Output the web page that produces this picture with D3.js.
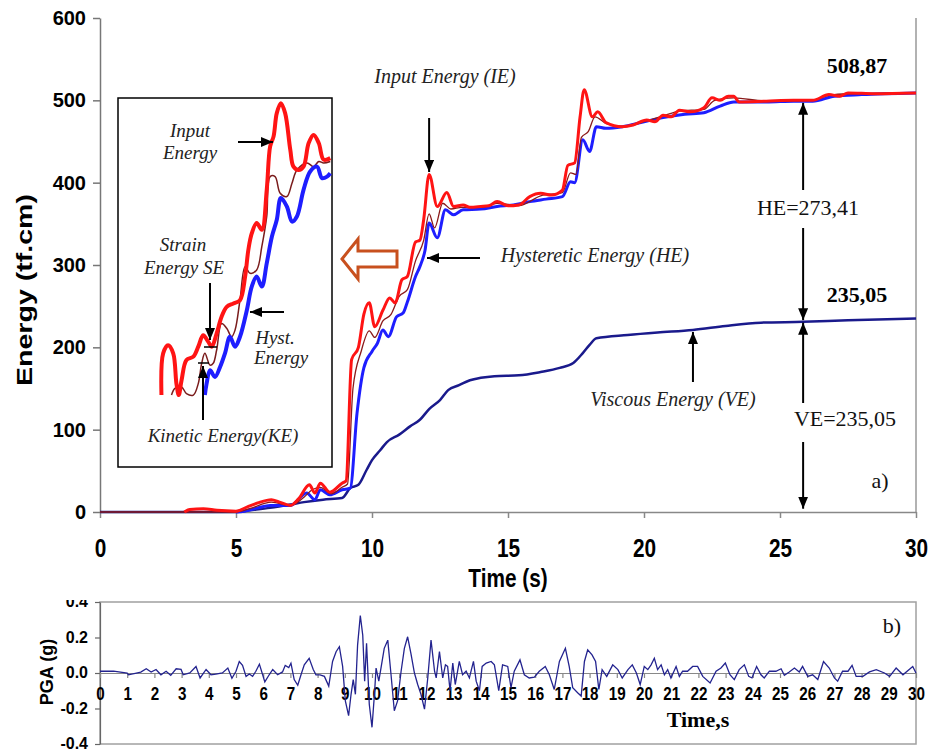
<!DOCTYPE html>
<html>
<head>
<meta charset="utf-8">
<script src="https://cdn.jsdelivr.net/npm/d3@7"></script>
<style>
  body { margin: 0; background: #fff; }
  svg { display: block; }
</style>
</head>
<body>
<div class="energy-chart"></div>
<script>
// ---- data ----
const timeTicks = [0, 5, 10, 15, 20, 25, 30]
const energyTicks = [0, 100, 200, 300, 400, 500, 600]
const pgaTicks = [-0.4, -0.2, 0, 0.2, 0.4]
const pgaTimeTicks = d3.range(0, 31)

// [time s, energy tf.cm]
const inputEnergy = [[3.1,0],[3.3,3],[3.8,4],[4.3,2],[5.0,1],[5.4,6],[5.8,11],[6.3,15],[6.6,12],[7.0,8],[7.3,16],[7.7,33],[7.9,23],[8.1,35],[8.45,24],[8.9,35],[9.05,38],[9.25,185],[9.5,200],[9.7,240],[9.9,254],[10.1,225],[10.4,245],[10.65,260],[10.85,254],[11.1,282],[11.3,286],[11.6,328],[11.76,330],[11.9,355],[12.1,410],[12.4,371],[12.75,388],[13.0,371],[13.35,373],[13.6,370],[14.0,371],[14.3,372],[14.6,377],[15.0,372],[15.4,373],[15.8,383],[16.2,387],[16.6,385],[17.0,391],[17.2,421],[17.45,424],[17.65,480],[17.8,513],[18.1,480],[18.3,486],[18.6,473],[19.2,468],[19.6,470],[20.1,476],[20.4,474],[20.7,482],[21.0,480],[21.3,488],[21.7,486],[22.2,491],[22.5,503],[22.8,500],[23.1,505],[23.3,505],[23.5,498],[24.5,499],[25.5,500],[26.2,500],[26.8,507],[27.2,505],[27.5,509],[28.5,508],[30,509]]
const strainEnergy = [[0,0],[5.0,0],[5.5,4],[6.3,12],[7.0,8],[7.5,18],[7.8,27],[8.1,30],[8.5,22],[8.9,30],[9.1,34],[9.3,150],[9.6,195],[9.9,220],[10.1,212],[10.4,232],[10.7,240],[11.0,262],[11.3,270],[11.6,305],[11.9,330],[12.1,362],[12.3,345],[12.6,375],[12.9,368],[13.3,370],[14.0,370],[14.6,375],[15.4,372],[16.2,384],[17.0,388],[17.3,412],[17.5,410],[17.7,455],[17.95,462],[18.2,480],[18.6,472],[19.2,468],[20.1,475],[20.7,481],[21.3,487],[22.2,489],[22.6,500],[23.3,503],[24.5,499],[26.2,500],[26.8,506],[27.5,508],[30,509]]
const hystereticEnergy = [[5.0,0],[5.3,1],[5.8,5],[6.25,8],[7.0,8],[7.6,23],[7.9,15],[8.1,27],[8.45,21],[8.9,27],[9.2,29],[9.45,120],[9.7,175],[10.0,195],[10.2,205],[10.4,221],[10.6,213],[10.9,237],[11.15,242],[11.3,255],[11.6,286],[11.76,298],[11.95,318],[12.1,351],[12.4,333],[12.7,367],[13.0,361],[13.35,367],[14.0,368],[14.6,371],[15.2,373],[15.8,377],[16.4,380],[17.0,383],[17.3,401],[17.45,400],[17.75,452],[18.0,438],[18.25,468],[18.6,466],[19.2,468],[20.0,474],[20.7,479],[21.5,483],[22.2,485],[22.8,493],[23.3,498],[24.5,498],[25.5,499],[26.2,499],[27.0,505],[28.0,507],[30,509]]
const viscousEnergy = [[0,0],[5.0,0],[5.5,2],[6.25,5],[7.0,9],[7.5,12],[8.2,15],[8.9,17],[9.2,29],[9.5,33],[9.8,51],[10.0,63],[10.3,75],[10.55,85],[11.0,94],[11.4,104],[11.76,112],[12.1,125],[12.5,136],[12.8,148],[13.2,154],[13.6,160],[14.0,163],[14.5,165],[15.4,166],[16.2,170],[16.9,175],[17.4,181],[17.75,193],[18.0,203],[18.25,211],[19.4,215],[20.5,218],[21.8,221],[23.0,226],[24.3,230],[25.85,231],[27.5,233],[30,235.05]]

// inset (magnified early response), relative units 0-100
const insetInput = [[20.3,19.5],[21.1,30.8],[23.4,33.0],[25.8,30.8],[27.3,22.6],[28.4,19.5],[29.7,23.5],[32.0,29.0],[35.2,29.9],[37.5,32.6],[39.8,35.7],[42.2,33.9],[43.8,32.6],[46.1,36.2],[48.4,40.7],[50.8,43.4],[53.9,44.3],[57.0,45.2],[59.4,51.6],[60.9,58.8],[62.5,63.3],[64.8,66.1],[67.2,64.3],[69.5,75.1],[71.1,86.9],[72.7,89.6],[74.2,95.9],[76.1,98.6],[78.1,95.9],[80.5,86.0],[82.0,81.4],[84.4,80.5],[86.7,81.4],[89.1,87.8],[91.4,90.0],[93.8,87.8],[96.1,83.3],[99.2,83.7]]
const insetStrain = [[25.0,19.5],[26.6,21.3],[29.7,21.7],[32.0,19.9],[35.2,19.5],[37.5,22.6],[39.1,28.1],[40.6,30.8],[43.0,27.6],[44.5,28.1],[46.1,31.7],[48.4,38.9],[50.8,37.6],[53.1,35.3],[54.7,37.1],[57.0,45.2],[59.4,54.3],[61.7,52.5],[64.8,53.4],[67.2,59.7],[69.5,67.9],[71.1,78.7],[73.4,78.7],[75.8,74.2],[78.9,73.3],[81.3,76.9],[83.6,80.5],[88.3,82.4],[91.4,81.4],[93.8,82.8],[96.1,82.4],[99.2,82.8]]
const insetHyst = [[40.6,19.5],[41.4,22.6],[43.0,26.2],[45.3,24.4],[47.7,27.1],[50.0,30.8],[52.3,35.3],[54.7,32.6],[57.0,35.3],[60.2,42.5],[62.5,48.9],[64.8,51.6],[67.2,48.9],[69.5,55.2],[71.9,62.4],[74.2,67.0],[76.1,72.9],[78.9,70.6],[81.3,66.5],[83.6,67.9],[86.7,75.1],[89.8,80.1],[93.0,81.4],[95.3,78.3],[97.7,78.7],[99.2,79.6]]

// ground motion record [time s, PGA g]
const pgaRecord = [[0,0.01],[0.5,0.01],[1.0,0.0],[1.05,-0.01],[1.5,0.005],[1.7,0.024],[1.88,0.005],[2.06,0.02],[2.24,-0.01],[2.43,0.01],[2.6,-0.013],[2.8,0.024],[2.98,0.02],[3.06,-0.01],[3.3,0.0],[3.53,0.037],[3.68,-0.028],[3.9,0.02],[4.08,-0.01],[4.26,-0.006],[4.5,0.0],[4.7,0.028],[4.85,-0.03],[5.0,0.01],[5.12,0.065],[5.24,0.043],[5.37,-0.019],[5.49,-0.006],[5.61,-0.019],[5.73,0.01],[5.86,0.05],[5.98,-0.01],[6.06,-0.05],[6.22,-0.01],[6.35,0.02],[6.53,-0.01],[6.71,0.006],[6.81,0.043],[6.94,0.031],[7.02,0.055],[7.14,-0.037],[7.27,-0.069],[7.39,-0.01],[7.51,0.046],[7.69,0.083],[7.84,0.02],[7.94,-0.01],[8.09,-0.01],[8.25,-0.019],[8.41,-0.074],[8.55,0.065],[8.68,0.12],[8.8,0.148],[8.92,0.037],[9.02,-0.157],[9.14,-0.24],[9.23,-0.12],[9.31,-0.037],[9.39,-0.12],[9.47,0.157],[9.57,0.324],[9.66,0.213],[9.73,-0.046],[9.8,0.167],[9.9,-0.176],[10.0,-0.306],[10.09,-0.12],[10.15,0.028],[10.25,-0.046],[10.33,0.028],[10.45,0.139],[10.58,0.185],[10.7,-0.01],[10.82,-0.213],[10.94,-0.157],[11.07,0.01],[11.19,0.139],[11.31,0.204],[11.43,0.111],[11.56,0.0],[11.68,-0.065],[11.8,-0.12],[11.93,-0.204],[12.05,-0.028],[12.17,0.185],[12.3,0.01],[12.36,-0.028],[12.48,0.12],[12.6,-0.028],[12.7,0.046],[12.78,0.037],[12.87,-0.1],[12.97,0.056],[13.06,-0.065],[13.21,0.065],[13.33,-0.01],[13.46,0.01],[13.58,-0.028],[13.73,0.065],[13.83,-0.046],[13.95,-0.1],[14.05,0.037],[14.2,0.056],[14.38,0.065],[14.5,0.046],[14.66,-0.1],[14.8,0.046],[14.99,0.037],[15.11,-0.083],[15.23,0.01],[15.44,0.074],[15.6,-0.01],[15.78,-0.028],[15.97,-0.024],[16.15,0.01],[16.37,0.037],[16.52,-0.01],[16.7,-0.093],[16.89,0.065],[17.11,0.139],[17.25,0.037],[17.38,-0.083],[17.56,-0.111],[17.69,-0.13],[17.81,0.065],[17.93,0.13],[18.09,0.102],[18.22,0.065],[18.34,-0.093],[18.46,0.019],[18.63,-0.019],[18.85,0.046],[19.04,0.019],[19.2,-0.028],[19.41,0.019],[19.57,0.046],[19.72,0.0],[19.86,-0.065],[20.01,0.037],[20.14,0.019],[20.26,0.046],[20.38,0.083],[20.5,0.019],[20.63,0.046],[20.75,-0.01],[20.87,0.019],[20.99,-0.028],[21.18,0.037],[21.3,-0.019],[21.42,0.01],[21.6,0.01],[21.79,0.037],[21.97,0.037],[22.16,-0.019],[22.43,-0.056],[22.65,0.01],[22.83,0.028],[22.99,0.056],[23.16,-0.01],[23.32,-0.037],[23.5,0.019],[23.69,0.046],[23.85,-0.019],[23.97,-0.028],[24.14,0.037],[24.3,-0.01],[24.42,-0.028],[24.61,0.01],[24.85,0.01],[25.04,0.024],[25.16,-0.013],[25.34,0.006],[25.53,0.028],[25.71,0.006],[25.83,0.037],[26.02,-0.019],[26.2,-0.01],[26.39,-0.037],[26.6,0.065],[26.81,0.028],[27.0,-0.028],[27.12,-0.046],[27.3,0.01],[27.5,0.01],[27.65,0.043],[27.8,-0.019],[28.05,-0.019],[28.29,0.006],[28.54,0.019],[28.84,0.0],[29.03,-0.019],[29.27,0.028],[29.52,-0.01],[29.88,0.037],[30,0.0]]

const finalInput = 508.87
const finalViscous = 235.05
const finalHysteretic = 273.41

// ---- drawing ----
const width = 929
const height = 751
const sans = "'Liberation Sans', Arial, sans-serif"
const serif = "'Liberation Serif', 'Times New Roman', serif"

const svg = d3.select(".energy-chart").append("svg")
    .attr("width", width)
    .attr("height", height)
    .attr("viewBox", [0, 0, width, height])

const defs = svg.append("defs")
defs.append("marker")
    .attr("id", "head")
    .attr("markerUnits", "userSpaceOnUse")
    .attr("markerWidth", 12).attr("markerHeight", 10)
    .attr("refX", 12).attr("refY", 5)
    .attr("orient", "auto")
  .append("path")
    .attr("d", "M0,0L12,5L0,10Z")
    .attr("fill", "#000")

function arrow(g, x1, y1, x2, y2) {
    g.append("line")
        .attr("x1", x1).attr("y1", y1)
        .attr("x2", x2).attr("y2", y2)
        .attr("stroke", "#000")
        .attr("stroke-width", 2)
        .attr("marker-end", "url(#head)")
}

function label(g, text, px, py, opts = {}) {
    return g.append("text")
        .attr("x", px).attr("y", py)
        .attr("text-anchor", opts.anchor || "middle")
        .attr("font-family", opts.family || serif)
        .attr("font-style", opts.italic ? "italic" : "normal")
        .attr("font-weight", opts.bold ? "bold" : "normal")
        .attr("font-size", opts.size || 20)
        .attr("fill", opts.color || "#222")
        .text(text)
}

// ===== a) energy chart =====
const x = d3.scaleLinear().domain([0, 30]).range([100, 916])
const y = d3.scaleLinear().domain([0, 600]).range([512, 18])

svg.append("line")
    .attr("x1", x(30)).attr("x2", x(30))
    .attr("y1", y(600)).attr("y2", y(0))
    .attr("stroke", "#999").attr("stroke-width", 1.5)

const xAxis = svg.append("g")
    .attr("transform", `translate(0,${y(0)})`)
    .call(d3.axisBottom(x).tickValues(timeTicks).tickSize(6).tickSizeOuter(0))
xAxis.selectAll("path, line").attr("stroke", "#888").attr("stroke-width", 1.5)
xAxis.selectAll("text")
    .attr("font-family", sans).attr("font-weight", "bold").attr("font-size", 26)
    .attr("fill", "#000")
    .attr("y", 27)
    .attr("transform", "scale(0.8,1)")

const yAxis = svg.append("g")
    .attr("transform", `translate(${x(0)},0)`)
    .call(d3.axisLeft(y).tickValues(energyTicks).tickSize(7).tickSizeOuter(0))
yAxis.selectAll("path, line").attr("stroke", "#777").attr("stroke-width", 1.5)
yAxis.selectAll("text")
    .attr("font-family", sans).attr("font-weight", "bold").attr("font-size", 20)
    .attr("fill", "#000")
    .attr("x", -14)

svg.append("text")
    .attr("transform", "translate(32,290) rotate(-90)")
    .attr("text-anchor", "middle")
    .attr("font-family", sans).attr("font-weight", "bold").attr("font-size", 22)
    .attr("textLength", 192).attr("lengthAdjust", "spacingAndGlyphs")
    .text("Energy (tf.cm)")

svg.append("text")
    .attr("transform", "translate(508,578) scale(0.8,1)")
    .attr("text-anchor", "middle").attr("dy", "0.35em")
    .attr("font-family", sans).attr("font-weight", "bold").attr("font-size", 26)
    .text("Time (s)")

const line = d3.line()
    .x(d => x(d[0]))
    .y(d => y(d[1]))
    .curve(d3.curveMonotoneX)

const series = [
    {data: viscousEnergy, color: "#1a1a8c", w: 2.5},
    {data: hystereticEnergy, color: "#1e1eff", w: 3},
    {data: strainEnergy, color: "#8b1a1a", w: 1.3},
    {data: inputEnergy, color: "#ff1414", w: 3}
]
svg.append("g").selectAll("path")
    .data(series)
    .join("path")
        .attr("d", d => line(d.data))
        .attr("fill", "none")
        .attr("stroke", d => d.color)
        .attr("stroke-width", d => d.w)
        .attr("stroke-linejoin", "round")

// annotations on main chart
const ann = svg.append("g")
label(ann, "Input Energy (IE)", 445, 83, {italic: true})
arrow(ann, x(12.1), 118, x(12.1), 172)
label(ann, "Hysteretic Energy (HE)", 595, 262, {italic: true})
arrow(ann, 480, 258, 427, 258)
label(ann, "Viscous Energy (VE)", 673, 406, {italic: true})
arrow(ann, x(21.8), 382, x(21.8), 332)

const xm = x(25.85)
label(ann, String(finalInput).replace(".", ","), 857, 73, {bold: true, size: 22, color: "#000"})
label(ann, String(finalViscous).replace(".", ","), 857, 302, {bold: true, size: 22, color: "#000"})
arrow(ann, xm, 190, xm, y(497))
label(ann, "HE=" + String(finalHysteretic).replace(".", ","), 808, 215, {size: 22, color: "#111"})
arrow(ann, xm, 228, xm, y(233))
arrow(ann, xm, 403, xm, y(230))
label(ann, "VE=" + String(finalViscous).replace(".", ","), 845, 426, {size: 22, color: "#111"})
arrow(ann, xm, 442, xm, y(4))
label(ann, "a)", 880, 488, {size: 22, color: "#111"})

// hollow orange arrow pointing to the inset
svg.append("path")
    .attr("d", "M342,259 L358,239 L358,251 L397,251 L397,267 L358,267 L358,279 Z")
    .attr("fill", "#fff")
    .attr("stroke", "#c8501e")
    .attr("stroke-width", 3)
    .attr("stroke-linejoin", "miter")

// ===== inset =====
const ix = d3.scaleLinear().domain([0, 100]).range([118, 332])
const iy = d3.scaleLinear().domain([0, 100]).range([467, 98])
const inset = svg.append("g")
inset.append("rect")
    .attr("x", ix(0)).attr("y", iy(100))
    .attr("width", ix(100) - ix(0)).attr("height", iy(0) - iy(100))
    .attr("fill", "#fff").attr("stroke", "#000").attr("stroke-width", 1.5)

const iline = d3.line()
    .x(d => ix(d[0]))
    .y(d => iy(d[1]))
    .curve(d3.curveCatmullRom.alpha(0.5))

inset.selectAll("path.curve")
    .data([
        {data: insetStrain, color: "#7a1c1c", w: 1.5},
        {data: insetHyst, color: "#1e1eff", w: 4},
        {data: insetInput, color: "#ff1414", w: 4}
    ])
    .join("path")
        .attr("class", "curve")
        .attr("d", d => iline(d.data))
        .attr("fill", "none")
        .attr("stroke", d => d.color)
        .attr("stroke-width", d => d.w)
        .attr("stroke-linejoin", "round")

label(inset, "Input", 190, 137, {italic: true, size: 19})
label(inset, "Energy", 190, 159, {italic: true, size: 19})
arrow(inset, 238, 142, 273, 142)
label(inset, "Strain", 183, 251, {italic: true, size: 19})
label(inset, "Energy SE", 184, 274, {italic: true, size: 19})
arrow(inset, 210, 283, 210, 340)
label(inset, "Hyst.", 275, 344, {italic: true, size: 19})
label(inset, "Energy", 281, 364, {italic: true, size: 19})
arrow(inset, 284, 312, 250, 312)
arrow(inset, 203, 420, 203, 366)
label(inset, "Kinetic Energy(KE)", 223, 442, {italic: true, size: 19})
inset.selectAll("line.bar")
    .data([[204, 217, 347], [198, 209, 363]])
    .join("line")
        .attr("class", "bar")
        .attr("x1", d => d[0]).attr("x2", d => d[1])
        .attr("y1", d => d[2]).attr("y2", d => d[2])
        .attr("stroke", "#000").attr("stroke-width", 1.5)

// ===== b) ground acceleration =====
const xb = d3.scaleLinear().domain([0, 30]).range([100, 916])
const yb = d3.scaleLinear().domain([-0.4, 0.4]).range([744, 602])

svg.append("rect")
    .attr("x", xb(0)).attr("y", yb(0.4))
    .attr("width", xb(30) - xb(0)).attr("height", yb(-0.4) - yb(0.4))
    .attr("fill", "none").attr("stroke", "#a0a0a0").attr("stroke-width", 1.5)

const ybAxis = svg.append("g")
    .attr("transform", `translate(${xb(0)},0)`)
    .call(d3.axisLeft(yb).tickValues(pgaTicks).tickSize(5).tickSizeOuter(0)
        .tickFormat(d => d.toFixed(1)))
ybAxis.selectAll("path, line").attr("stroke", "#666").attr("stroke-width", 1.2)
ybAxis.selectAll("text")
    .attr("font-family", sans).attr("font-weight", "bold").attr("font-size", 16)
    .attr("fill", "#000")
    .attr("x", -12)
    .attr("dy", "0.3em")

const xbAxis = svg.append("g")
    .attr("transform", `translate(0,${yb(0)})`)
    .call(d3.axisBottom(xb).tickValues(pgaTimeTicks).tickSize(5).tickSizeOuter(0))
xbAxis.selectAll("path, line").attr("stroke", "#888").attr("stroke-width", 1.2)
xbAxis.selectAll("text")
    .attr("font-family", sans).attr("font-weight", "bold").attr("font-size", 19)
    .attr("fill", "#000")
    .attr("y", 14)
    .attr("transform", "scale(0.8,1)")

svg.append("path")
    .datum(pgaRecord)
    .attr("d", d3.line().x(d => xb(d[0])).y(d => yb(d[1])))
    .attr("fill", "none")
    .attr("stroke", "#23238f")
    .attr("stroke-width", 1.3)

// top of the 0.4 label is hidden behind the upper panel in the original
svg.append("rect")
    .attr("x", 40).attr("y", 588).attr("width", 58).attr("height", 12)
    .attr("fill", "#fff")

svg.append("text")
    .attr("transform", "translate(53,672) rotate(-90)")
    .attr("text-anchor", "middle")
    .attr("font-family", sans).attr("font-weight", "bold").attr("font-size", 18)
    .text("PGA (g)")

label(svg, "Time,s", 698, 727, {bold: true, size: 22, color: "#000"})
label(svg, "b)", 892, 633, {size: 22, color: "#111"})
</script>
</body>
</html>
